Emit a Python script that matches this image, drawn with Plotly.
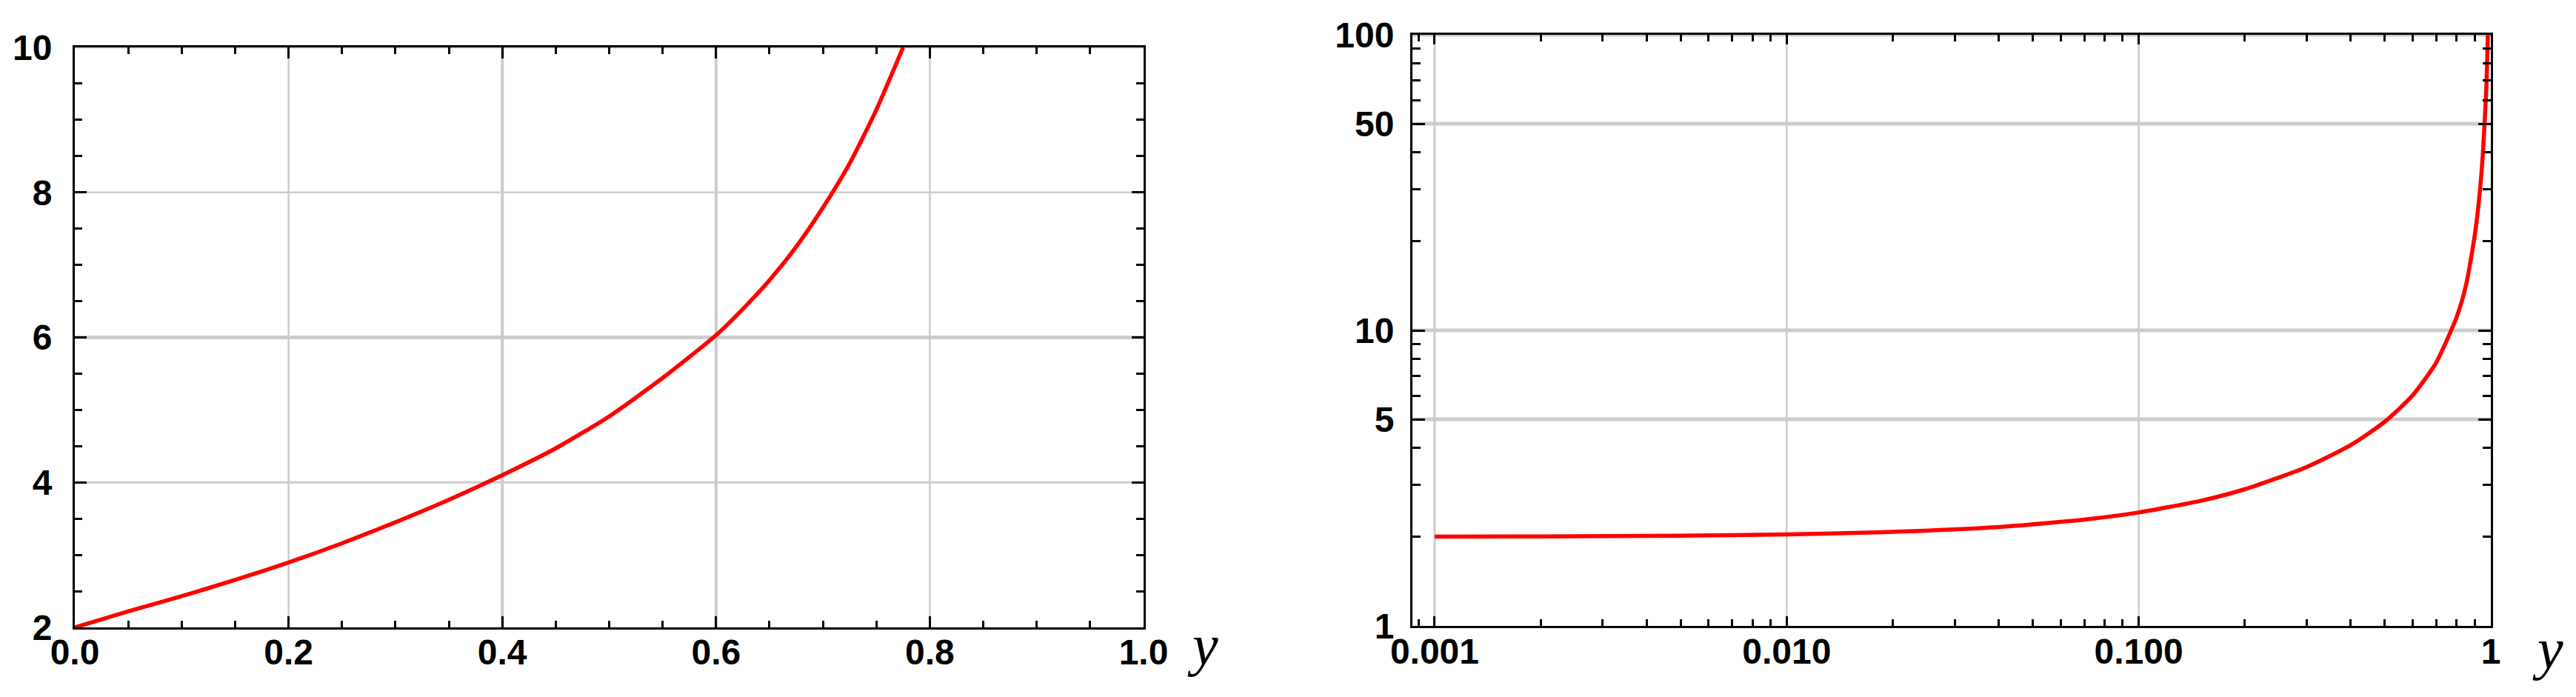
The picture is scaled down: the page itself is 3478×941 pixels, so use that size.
import plotly.graph_objects as go

# ---------------- data ----------------
# left panel (linear axes)
lin_y = [0.0, 0.05, 0.10, 0.15, 0.20, 0.25, 0.30, 0.35, 0.40, 0.45, 0.50,
         0.55, 0.60, 0.625, 0.65, 0.675, 0.70, 0.725, 0.75, 0.775]
lin_f = [2.0, 2.22, 2.43, 2.655, 2.895, 3.16, 3.45, 3.76, 4.10, 4.47, 4.91,
         5.44, 6.03, 6.39, 6.79, 7.25, 7.79, 8.40, 9.14, 10.0]

# right panel (log-log axes)
log_y = [0.001, 0.002, 0.005, 0.01, 0.02, 0.04, 0.07, 0.10, 0.15, 0.20, 0.30,
         0.40, 0.50, 0.60, 0.70, 0.80, 0.85, 0.90, 0.93, 0.95, 0.97, 0.981, 0.986]
log_f = [2.004, 2.008, 2.02, 2.04, 2.08, 2.16, 2.29, 2.42, 2.65, 2.90, 3.45,
         4.09, 4.91, 6.03, 7.79, 11.1, 14.2, 20.9, 29.2, 40.2, 64.0, 100.0, 135.0]

# ticks
lin_xticks = [0.0, 0.2, 0.4, 0.6, 0.8, 1.0]
lin_xtext = ["0.0", "0.2", "0.4", "0.6", "0.8", "1.0"]
lin_xminor = [0.05, 0.10, 0.15, 0.25, 0.30, 0.35, 0.45, 0.50, 0.55,
              0.65, 0.70, 0.75, 0.85, 0.90, 0.95]
lin_yticks = [2, 4, 6, 8, 10]
lin_ytext = ["2", "4", "6", "8", "10"]
lin_yminor = [2.5, 3, 3.5, 4.5, 5, 5.5, 6.5, 7, 7.5, 8.5, 9, 9.5]

log_xticks = [0.001, 0.01, 0.1, 1]
log_xtext = ["0.001", "0.010", "0.100", "1"]
log_xminor = [0.0009,
              0.002, 0.003, 0.004, 0.005, 0.006, 0.007, 0.008, 0.009,
              0.02, 0.03, 0.04, 0.05, 0.06, 0.07, 0.08, 0.09,
              0.2, 0.3, 0.4, 0.5, 0.6, 0.7, 0.8, 0.9]
log_yticks = [1, 5, 10, 50, 100]
log_ytext = ["1", "5", "10", "50", "100"]
log_yminor = [2, 3, 4, 6, 7, 8, 9, 20, 30, 40, 60, 70, 80, 90]

# grid lines (value, width)
lin_xgrid = [(0.2, 2.5), (0.4, 4), (0.6, 4), (0.8, 2.5)]
lin_ygrid = [(4, 3), (6, 5), (8, 2.5), (10, 3)]
log_xgrid = [(0.001, 3), (0.01, 2.5), (0.1, 2.5)]
log_ygrid = [(5, 5), (10, 5), (50, 5), (100, 5)]

# ---------------- figure ----------------
W, H = 3478, 941
GRID = "#cccccc"
RED = "#ff0000"
tickfont = dict(family="Liberation Sans, Arial, sans-serif", size=48,
                color="black", weight="bold")

fig = go.Figure()
fig.add_trace(go.Scatter(x=lin_y, y=lin_f, mode="lines",
                         line=dict(color=RED, width=5.5, shape="spline", smoothing=0.6),
                         xaxis="x", yaxis="y", showlegend=False))
fig.add_trace(go.Scatter(x=log_y, y=log_f, mode="lines",
                         line=dict(color=RED, width=5.5, shape="spline", smoothing=0.6),
                         xaxis="x2", yaxis="y2", showlegend=False))

shapes = []
for v, w in lin_xgrid:
    shapes.append(dict(type="line", xref="x", yref="y domain", x0=v, x1=v, y0=0, y1=1,
                       line=dict(color=GRID, width=w), layer="below"))
for v, w in lin_ygrid:
    shapes.append(dict(type="line", xref="x domain", yref="y", x0=0, x1=1, y0=v, y1=v,
                       line=dict(color=GRID, width=w), layer="below"))
for v, w in log_xgrid:
    shapes.append(dict(type="line", xref="x2", yref="y2 domain", x0=v, x1=v, y0=0, y1=1,
                       line=dict(color=GRID, width=w), layer="below"))
for v, w in log_ygrid:
    shapes.append(dict(type="line", xref="x2 domain", yref="y2", x0=0, x1=1, y0=v, y1=v,
                       line=dict(color=GRID, width=w), layer="below"))

common = dict(showgrid=False, zeroline=False, showline=True, linecolor="black",
              linewidth=3, mirror="allticks", ticks="inside", tickcolor="black",
              tickwidth=2.5, tickfont=tickfont, tickmode="array", automargin=False)

fig.update_layout(
    width=W, height=H,
    margin=dict(l=0, r=0, t=0, b=0, autoexpand=False),
    paper_bgcolor="white", plot_bgcolor="white",
    shapes=shapes,
    xaxis=dict(domain=[93 / W, 1536 / W], anchor="y", range=[0, 1],
               tickvals=lin_xticks, ticktext=lin_xtext, ticklen=15,
               ticklabelstandoff=-11,
               minor=dict(tickmode="array", tickvals=lin_xminor, ticks="inside",
                          ticklen=9, tickwidth=2.5, tickcolor="black", showgrid=False),
               **common),
    yaxis=dict(domain=[(H - 839) / H, (H - 56) / H], anchor="x", range=[2, 10],
               tickvals=lin_yticks, ticktext=lin_ytext, ticklen=16,
               ticklabelstandoff=18,
               minor=dict(tickmode="array", tickvals=lin_yminor, ticks="inside",
                          ticklen=10, tickwidth=2.5, tickcolor="black", showgrid=False),
               **common),
    xaxis2=dict(domain=[1899 / W, 3355 / W], anchor="y2", type="log",
                range=[-3.063, 0],
                tickvals=log_xticks, ticktext=log_xtext, ticklen=13,
                ticklabelstandoff=-10,
                minor=dict(tickmode="array", tickvals=log_xminor, ticks="inside",
                           ticklen=9, tickwidth=2.5, tickcolor="black", showgrid=False),
                **common),
    yaxis2=dict(domain=[(H - 837) / H, (H - 39) / H], anchor="x2", type="log",
                range=[0, 2],
                tickvals=log_yticks, ticktext=log_ytext, ticklen=17,
                ticklabelstandoff=12,
                minor=dict(tickmode="array", tickvals=log_yminor, ticks="inside",
                           ticklen=11, tickwidth=2.5, tickcolor="black", showgrid=False),
                **common),
    annotations=[
        dict(text="y", xref="x domain", yref="y domain", x=1.0555, y=-0.0295,
             xanchor="center", yanchor="middle", showarrow=False,
             font=dict(family="Liberation Serif, Times New Roman, serif", size=78,
                       color="black", style="italic")),
        dict(text="y", xref="x2 domain", yref="y2 domain", x=1.053, y=-0.0376,
             xanchor="center", yanchor="middle", showarrow=False,
             font=dict(family="Liberation Serif, Times New Roman, serif", size=78,
                       color="black", style="italic")),
    ],
)

fig.write_html("out.html")
